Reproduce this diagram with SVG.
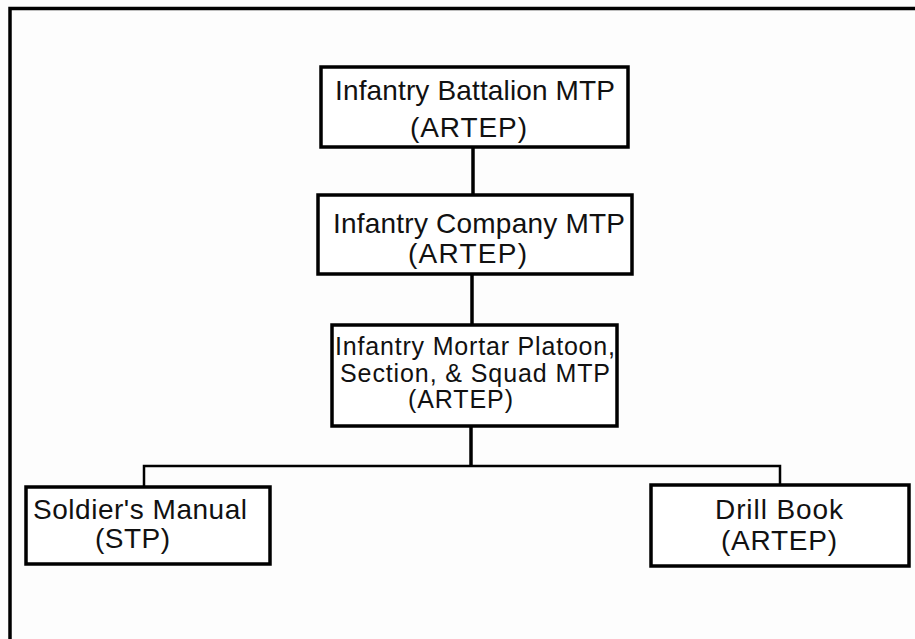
<svg xmlns="http://www.w3.org/2000/svg" width="915" height="639" viewBox="0 0 915 639">
<style>
.box{fill:#fff;stroke:#000;stroke-width:3.5}
.t{font-family:"Liberation Sans",Arial,sans-serif;fill:#111;lengthAdjust:spacing}
.c{fill:none;stroke:#000}
</style>
<rect width="915" height="639" fill="#fdfdfd"/>
<path d="M10 639 V8.5 H915" fill="none" stroke="#000" stroke-width="3.5"/>
<g id="connectors">
<path class="c" stroke-width="3.5" d="M473 147 V195"/>
<path class="c" stroke-width="3.5" d="M472 274 V325"/>
<path class="c" stroke-width="3.5" d="M471 426 V466"/>
<path class="c" stroke-width="2.5" d="M144 487 V466 H780 V485"/>
</g>
<g id="battalion">
<rect class="box" x="321" y="67" width="307" height="80"/>
<text class="t" font-size="28" x="335" y="100" textLength="280" lengthAdjust="spacing">Infantry Battalion MTP</text>
<text class="t" font-size="28" x="410" y="137" textLength="117" lengthAdjust="spacing">(ARTEP)</text>
</g>
<g id="company">
<rect class="box" x="318" y="195" width="314" height="79"/>
<text class="t" font-size="28" x="333" y="233" textLength="292" lengthAdjust="spacing">Infantry Company MTP</text>
<text class="t" font-size="28" x="408" y="263" textLength="119" lengthAdjust="spacing">(ARTEP)</text>
</g>
<g id="platoon">
<rect class="box" x="332" y="325" width="285" height="101"/>
<text class="t" font-size="25" x="335" y="355" textLength="280" lengthAdjust="spacing">Infantry Mortar Platoon,</text>
<text class="t" font-size="25" x="340" y="382" textLength="270" lengthAdjust="spacing">Section, &amp; Squad MTP</text>
<text class="t" font-size="25" x="408" y="408" textLength="105" lengthAdjust="spacing">(ARTEP)</text>
</g>
<g id="soldiers-manual">
<rect class="box" x="26" y="487" width="244" height="77"/>
<text class="t" font-size="28" x="33" y="519" textLength="214" lengthAdjust="spacing">Soldier's Manual</text>
<text class="t" font-size="28" x="95" y="548" textLength="75" lengthAdjust="spacing">(STP)</text>
</g>
<g id="drill-book">
<rect class="box" x="651" y="485" width="258" height="81"/>
<text class="t" font-size="28" x="715" y="519" textLength="128" lengthAdjust="spacing">Drill Book</text>
<text class="t" font-size="28" x="721" y="550" textLength="116" lengthAdjust="spacing">(ARTEP)</text>
</g>
</svg>
